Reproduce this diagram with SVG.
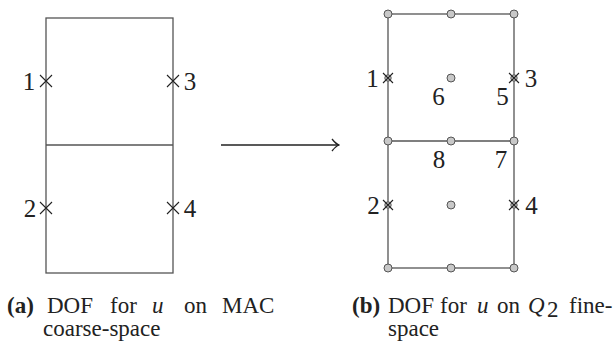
<svg xmlns="http://www.w3.org/2000/svg" width="614" height="343" viewBox="0 0 614 343">
<defs>
<style>
.ln{stroke:#555;stroke-width:1.3;fill:none}
.cr{stroke:#222;stroke-width:1.1;fill:none}
.pt{fill:#c8c8c8;stroke:#555;stroke-width:1}
.num{font-family:"Liberation Serif",serif;font-size:25px;fill:#222;text-anchor:middle}
.cap{font-family:"Liberation Serif",serif;font-size:23px;fill:#222}
.b{font-weight:bold}
.it{font-style:italic}
</style>
<g id="x"><path class="cr" d="M-6,-6L6,6M-6,6L6,-6"/></g>
<g id="xs"><path class="cr" d="M-5,-5L5,5M-5,5L5,-5"/></g>
<marker id="ah" markerWidth="10" markerHeight="14" refX="9" refY="7" orient="auto" markerUnits="userSpaceOnUse"><path d="M2,1 Q6,6 9,7 Q6,8 2,13" fill="none" stroke="#222" stroke-width="1.3"/></marker>
</defs>
<g id="coarse">
<rect class="ln" x="46" y="18" width="127" height="255"/>
<line class="ln" x1="46" y1="145" x2="173" y2="145"/>
<use href="#x" x="46" y="81"/>
<use href="#x" x="173" y="81"/>
<use href="#x" x="46" y="208"/>
<use href="#x" x="173" y="208"/>
<text class="num" x="29" y="90">1</text>
<text class="num" x="190" y="90">3</text>
<text class="num" x="30" y="217">2</text>
<text class="num" x="190" y="217">4</text>
</g>
<g id="connectors">
<line x1="221" y1="145" x2="339" y2="145" stroke="#222" stroke-width="1.3" marker-end="url(#ah)"/>
</g>
<g id="fine">
<rect class="ln" x="388" y="14" width="126" height="254"/>
<line class="ln" x1="388" y1="141" x2="514" y2="141"/>
<circle class="pt" cx="388" cy="78" r="3.2"/>
<circle class="pt" cx="514" cy="78" r="3.2"/>
<circle class="pt" cx="388" cy="205" r="3.2"/>
<circle class="pt" cx="514" cy="205" r="3.2"/>
<use href="#xs" x="388" y="78"/>
<use href="#xs" x="514" y="78"/>
<use href="#xs" x="388" y="205"/>
<use href="#xs" x="514" y="205"/>
<circle class="pt" cx="388" cy="14" r="4"/>
<circle class="pt" cx="451" cy="14" r="4"/>
<circle class="pt" cx="514" cy="14" r="4"/>
<circle class="pt" cx="388" cy="141" r="4"/>
<circle class="pt" cx="451" cy="141" r="4"/>
<circle class="pt" cx="514" cy="141" r="4"/>
<circle class="pt" cx="388" cy="268" r="4"/>
<circle class="pt" cx="451" cy="268" r="4"/>
<circle class="pt" cx="514" cy="268" r="4"/>
<circle class="pt" cx="451" cy="78" r="4"/>
<circle class="pt" cx="451" cy="205" r="4"/>
<text class="num" x="372.5" y="87">1</text>
<text class="num" x="531" y="87">3</text>
<text class="num" x="373.5" y="214">2</text>
<text class="num" x="531.5" y="214">4</text>
<text class="num" x="438.5" y="105">6</text>
<text class="num" x="502.5" y="105">5</text>
<text class="num" x="439" y="168">8</text>
<text class="num" x="501" y="168">7</text>
</g>
<g id="captions">
<text class="cap b" x="7" y="313">(a)</text>
<text class="cap" x="47" y="313">DOF</text>
<text class="cap" x="110" y="313">for</text>
<text class="cap it" x="152" y="313">u</text>
<text class="cap" x="184" y="313">on</text>
<text class="cap" x="222" y="313">MAC</text>
<text class="cap" x="43" y="336">coarse-space</text>
<text class="cap b" x="352" y="313">(b)</text>
<text class="cap" x="388" y="313">DOF</text>
<text class="cap" x="440" y="313">for</text>
<text class="cap it" x="477" y="313">u</text>
<text class="cap" x="497" y="313">on</text>
<text class="cap it" x="528" y="313">Q</text>
<text class="cap" x="547" y="317" font-size="17">2</text>
<text class="cap" x="569" y="313">fine-</text>
<text class="cap" x="388" y="336">space</text>
</g>
</svg>
